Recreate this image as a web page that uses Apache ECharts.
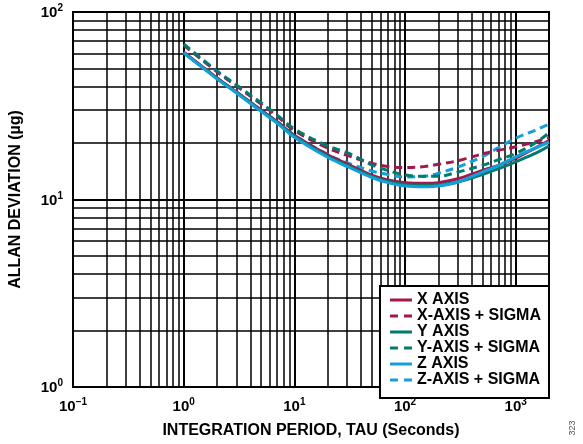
<!DOCTYPE html>
<html>
<head>
<meta charset="utf-8">
<script src="https://cdn.jsdelivr.net/npm/echarts@6/dist/echarts.min.js"></script>
<style>
  html, body { margin: 0; padding: 0; background: #fff; }
  #chart { width: 583px; height: 444px; }
</style>
</head>
<body>
<div id="chart"></div>
<script>
// Integration period (s) at which each Allan deviation curve is sampled
const tau = [1, 2, 3, 5, 7, 10, 20, 30, 50, 70, 100, 150, 200, 300, 500, 700, 1000, 1500, 2000];

// Allan deviation (µg) per accelerometer axis
const xAxisDev   = [61, 44.5, 37.5, 30, 26, 22, 17.3, 15.5, 13.5, 12.7, 12.3, 12.2, 12.3, 12.9, 14.3, 15.2, 16.6, 18.8, 20.6];
const xAxisSigma = [66.5, 48, 40.3, 32.3, 27.8, 23.3, 18.8, 17.2, 15.6, 15.0, 14.8, 15.0, 15.4, 16.1, 17.5, 18.3, 19.1, 20.3, 21.4];
const yAxisDev   = [60.5, 44.2, 37.2, 29.8, 25.8, 21.8, 17.0, 15.2, 13.3, 12.5, 12.0, 11.9, 12.0, 12.4, 13.6, 14.6, 15.9, 17.6, 19.3];
const yAxisSigma = [67.5, 48.5, 40.8, 32.8, 28.2, 23.8, 19.3, 17.8, 15.3, 14.3, 13.5, 13.3, 13.3, 14.0, 15.2, 16.3, 17.6, 20.0, 22.7];
const zAxisDev   = [60.5, 44, 37, 29.5, 25.5, 21.5, 16.8, 15.0, 13.1, 12.3, 11.8, 11.7, 11.8, 12.4, 14.0, 15.2, 16.9, 18.8, 20.2];
const zAxisSigma = [61, 44.5, 37.5, 30, 26, 22, 17.4, 15.7, 14.2, 13.6, 13.2, 13.3, 13.8, 14.9, 16.9, 18.9, 21.2, 23.4, 25.2];

// Grid lines of the log-log paper
const xMinorLines = [0.2, 0.3, 0.4, 0.5, 0.6, 0.7, 0.8, 0.9, 2, 3, 4, 5, 6, 7, 8, 9,
                     20, 30, 40, 50, 60, 70, 80, 90, 200, 300, 400, 500, 600, 700, 800, 900];
const xMajorLines = [1, 10, 100, 1000];
const yMinorLines = [2, 3, 4, 5, 6, 7, 8, 9, 20, 30, 40, 50, 60, 70, 80, 90];
const yMajorLines = [10];

const seriesNames = ['X AXIS', 'X-AXIS + SIGMA', 'Y AXIS', 'Y-AXIS + SIGMA', 'Z AXIS', 'Z-AXIS + SIGMA'];

const FONT = "'Liberation Sans', Arial, Helvetica, sans-serif";
const RED = '#a2184c';
const TEAL = '#037a6f';
const BLUE = '#149fd9';

// Legend keys: a plain bar for solid curves, two short bars for dashed ones
const SOLID_KEY = 'path://M0 0H22V3H0Z';
const DASHED_KEY = 'path://M0 0H8V3H0ZM14 0H22V3H14Z';

function pairs(values) {
  return tau.map((t, i) => [t, values[i]]);
}

// Power-of-ten tick labels written as 10 with a superscript exponent
function powerLabel(v) {
  const lg = Math.log10(v);
  const e = Math.round(lg);
  if (Math.abs(lg - e) > 1e-6) return '';
  return '{b|10}{s|' + (e < 0 ? '\u2212' + (-e) : e) + '}';
}
const powerRich = {
  b: { fontFamily: FONT, fontSize: 15, fontWeight: 'bold', color: '#000', lineHeight: 17, verticalAlign: 'bottom' },
  s: { fontFamily: FONT, fontSize: 10, fontWeight: 'bold', color: '#000', lineHeight: 10, verticalAlign: 'top' }
};

function curve(name, values, color, dashed, z) {
  return {
    name: name,
    type: 'line',
    data: pairs(values),
    smooth: 0.35,
    symbol: 'none',
    z: z,
    lineStyle: { color: color, width: 3, type: dashed ? [8, 5] : 'solid' },
    itemStyle: { color: color }
  };
}

const gridLineData = []
  .concat(xMinorLines.map(v => ({ xAxis: v })))
  .concat(yMinorLines.map(v => ({ yAxis: v })))
  .concat(xMajorLines.map(v => ({ xAxis: v, lineStyle: { width: 2 } })))
  .concat(yMajorLines.map(v => ({ yAxis: v, lineStyle: { width: 2 } })));

const chart = echarts.init(document.getElementById('chart'), null, { renderer: 'canvas' });

chart.setOption({
  animation: false,
  backgroundColor: '#fff',
  grid: {
    left: 71, right: 34, top: 12, bottom: 46,
    show: true, borderColor: '#000', borderWidth: 2, backgroundColor: 'transparent'
  },
  xAxis: {
    type: 'log', logBase: 10, min: 0.1, max: 2000,
    axisLine: { show: false }, axisTick: { show: false },
    splitLine: { show: false },
    axisLabel: { formatter: powerLabel, rich: powerRich, margin: 10, showMaxLabel: false },
    name: 'INTEGRATION PERIOD, TAU (Seconds)',
    nameLocation: 'middle', nameGap: 36,
    nameTextStyle: { fontFamily: FONT, fontSize: 16, fontWeight: 'bold', color: '#000' }
  },
  yAxis: {
    type: 'log', logBase: 10, min: 1, max: 100,
    axisLine: { show: false }, axisTick: { show: false },
    splitLine: { show: false },
    axisLabel: { formatter: powerLabel, rich: powerRich, margin: 10 },
    name: 'ALLAN DEVIATION (\u00b5g)',
    nameLocation: 'middle', nameGap: 49,
    nameTextStyle: { fontFamily: FONT, fontSize: 16, fontWeight: 'bold', color: '#000' }
  },
  legend: {
    data: seriesNames.map((n, i) => ({ name: n, icon: i % 2 ? DASHED_KEY : SOLID_KEY })),
    orient: 'vertical',
    right: 34, bottom: 46,
    z: 20,
    backgroundColor: '#fff',
    borderColor: '#000', borderWidth: 2, borderRadius: 0,
    padding: [6, 8, 10, 10],
    itemWidth: 22, itemHeight: 14, itemGap: 0,
    symbolKeepAspect: true,
    selectedMode: false,
    textStyle: { fontFamily: FONT, fontSize: 16, fontWeight: 'bold', color: '#000', lineHeight: 16 }
  },
  graphic: [{
    type: 'text', x: 573, y: 428, rotation: Math.PI / 2,
    style: { text: '323', fontFamily: FONT, fontSize: 9, fill: '#555', align: 'center', verticalAlign: 'middle' }
  }],
  series: [
    {
      type: 'line', data: [], silent: true, z: 1,
      markLine: {
        silent: true, animation: false, z: 1,
        symbol: ['none', 'none'],
        label: { show: false },
        lineStyle: { color: '#000', width: 1.5, type: 'solid' },
        emphasis: { disabled: true },
        data: gridLineData
      }
    },
    curve(seriesNames[5], zAxisSigma, BLUE, true, 2),
    curve(seriesNames[0], xAxisDev, RED, false, 3),
    curve(seriesNames[2], yAxisDev, TEAL, false, 3),
    curve(seriesNames[4], zAxisDev, BLUE, false, 3),
    curve(seriesNames[1], xAxisSigma, RED, true, 4),
    curve(seriesNames[3], yAxisSigma, TEAL, true, 4)
  ]
});
</script>
</body>
</html>
